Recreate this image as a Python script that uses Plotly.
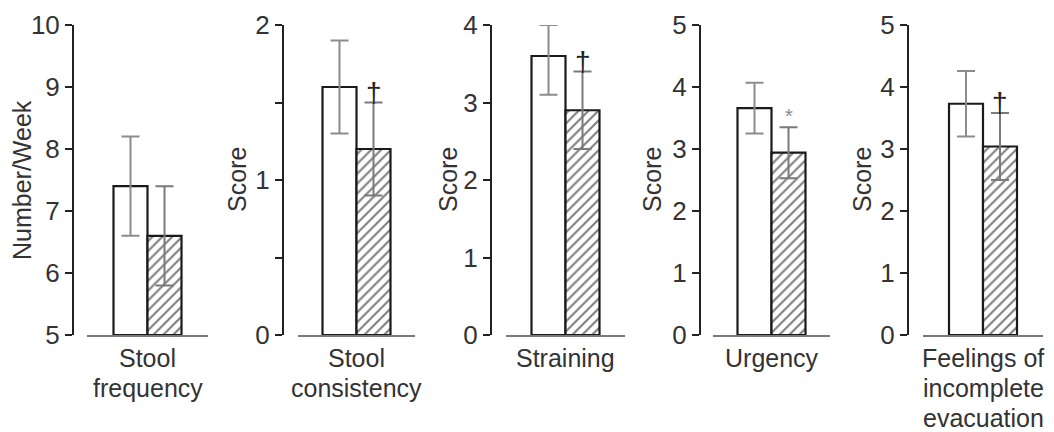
import plotly.graph_objects as go

# ---------------- data ----------------
categories = ["Stool<br>frequency", "Stool<br>consistency", "Straining", "Urgency",
              "Feelings of<br>incomplete<br>evacuation"]
y_titles = ["Number/Week", "Score", "Score", "Score", "Score"]
open_mean = [7.4, 1.6, 3.6, 3.66, 3.73]
open_err_up = [0.8, 0.3, 0.4, 0.41, 0.53]
open_err_down = [0.8, 0.3, 0.5, 0.41, 0.53]
hatched_mean = [6.6, 1.2, 2.9, 2.94, 3.04]
hatched_err_up = [0.8, 0.3, 0.5, 0.41, 0.54]
hatched_err_down = [0.8, 0.3, 0.5, 0.41, 0.54]
sig_marks = ["", "†", "†", "*", "†"]
y_ranges = [[5, 10], [0, 2], [0, 4], [0, 5], [0, 5]]
tick_vals = [[5, 6, 7, 8, 9, 10], [0, 0.5, 1, 1.5, 2], [0, 1, 2, 3, 4],
             [0, 1, 2, 3, 4, 5], [0, 1, 2, 3, 4, 5]]
tick_text = [["5", "6", "7", "8", "9", "10"], ["0", "", "1", "", "2"],
             ["0", "1", "2", "3", "4"], ["0", "1", "2", "3", "4", "5"],
             ["0", "1", "2", "3", "4", "5"]]

# ---------------- layout geometry (pixels) ----------------
W, H = 1054, 432
axis_px = [73, 283, 491, 700, 908]
dom_px = [(87, 208), (298, 415), (506, 625), (713, 830), (923, 1043)]
title_px = [22, 237, 448, 652, 862]
top_px, bot_px = 25, 335
bar_px = 34.0
FONT = "Liberation Sans, Arial, Helvetica, sans-serif"
TXT = "#333333"

fig = go.Figure()
ann = []
for i in range(5):
    n = "" if i == 0 else str(i + 1)
    xa, ya = "x" + n, "y" + n
    base = y_ranges[i][0]
    fig.add_trace(go.Bar(
        x=[0], y=[open_mean[i] - base], base=base, width=1, xaxis=xa, yaxis=ya,
        marker=dict(color="white", line=dict(color="#1a1a1a", width=2.2)),
        error_y=dict(type="data", symmetric=False, array=[open_err_up[i]],
                     arrayminus=[open_err_down[i]], color="#8c8c8c", thickness=2, width=9),
        showlegend=False))
    fig.add_trace(go.Bar(
        x=[1], y=[hatched_mean[i] - base], base=base, width=1, xaxis=xa, yaxis=ya,
        marker=dict(color="white", line=dict(color="#1a1a1a", width=2.2),
                    pattern=dict(shape="/", fgcolor="#000000", bgcolor="white",
                                 size=7, solidity=0.3)),
        error_y=dict(type="data", symmetric=False, array=[hatched_err_up[i]],
                     arrayminus=[hatched_err_down[i]], color="#7a7a7a", thickness=2, width=9),
        showlegend=False))

    x0, x1 = dom_px[i]
    half = (x1 - x0) / 2 / bar_px
    fig.update_layout(**{
        ("xaxis" + n): dict(domain=[x0 / W, x1 / W], range=[0.5 - half, 0.5 + half],
                            anchor=ya, showline=True, linecolor="#7a7a7a", linewidth=2,
                            showticklabels=False, ticks="", showgrid=False, zeroline=False,
                            fixedrange=True, automargin=False),
        ("yaxis" + n): dict(domain=[1 - bot_px / H, 1 - top_px / H], range=y_ranges[i],
                            anchor="free", position=axis_px[i] / W,
                            showline=True, linecolor="#222222", linewidth=2,
                            ticks="outside", ticklen=7, tickwidth=2, tickcolor="#222222",
                            tickvals=tick_vals[i], ticktext=tick_text[i],
                            tickfont=dict(family=FONT, size=26, color=TXT),
                            showgrid=False, zeroline=False, fixedrange=True,
                            automargin=False),
    })

    # category label lines
    for j, line in enumerate(categories[i].split("<br>")):
        ann.append(dict(text=line, xref=xa, x=0.5, yref="paper",
                        y=1 - (358 + 30 * j) / H, yanchor="middle", xanchor="center",
                        showarrow=False, font=dict(family=FONT, size=25, color=TXT)))
    # y title
    ann.append(dict(text=y_titles[i], xref="paper", x=title_px[i] / W, yref="paper",
                    y=1 - (top_px + bot_px) / 2 / H, textangle=-90, xanchor="center",
                    yanchor="middle", showarrow=False,
                    font=dict(family=FONT, size=25, color=TXT)))
    # significance marker
    if sig_marks[i]:
        star = sig_marks[i] == "*"
        ann.append(dict(text=sig_marks[i], xref=xa, x=1, yref=ya,
                        y=hatched_mean[i] + hatched_err_up[i], yanchor="bottom",
                        xanchor="center", showarrow=False, yshift=-2 if star else -7,
                        font=dict(family=FONT, size=20 if star else 28,
                                  color="#8c8c8c" if star else "#222222")))

fig.update_layout(width=W, height=H, margin=dict(l=0, r=0, t=0, b=0, autoexpand=False),
                  paper_bgcolor="white", plot_bgcolor="white", barmode="overlay",
                  showlegend=False, annotations=ann)
fig.write_html("out.html")
